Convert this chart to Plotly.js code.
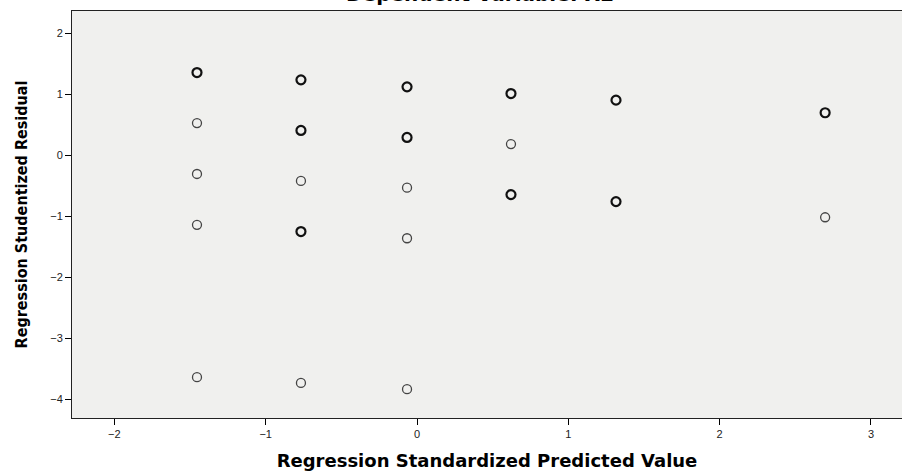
<!DOCTYPE html>
<html><head><meta charset="utf-8">
<script src="https://cdn.plot.ly/plotly-3.0.1.min.js"></script>
<style>html,body{margin:0;padding:0;background:#fff}#chart{width:902px;height:471px}</style>
</head><body><div id="chart"></div>
<script>
// Predicted values (x) and studentized residuals (y)
const singleX = [-1.454, -1.454, -1.454, -1.454, -0.767, -0.767, -0.066, -0.066, -0.066, 0.621, 2.697];
const singleY = [0.527, -0.308, -1.142, -3.64, -0.422, -3.735, -0.532, -1.362, -3.838, 0.183, -1.018];
const multiX = [-1.454, -0.767, -0.767, -0.767, -0.066, -0.066, 0.621, 0.621, 1.315, 1.315, 2.697];
const multiY = [1.355, 1.236, 0.406, -1.252, 1.121, 0.291, 1.011, -0.646, 0.903, -0.761, 0.696];
const xTicks = [-2, -1, 0, 1, 2, 3];
const yTicks = [-4, -3, -2, -1, 0, 1, 2];
const chartTitle = 'Dependent Variable: X2';

const traces = [
  {x: singleX, y: singleY, type: 'scatter', mode: 'markers', name: 'single',
   marker: {symbol: 'circle-open', size: 9, color: '#444', line: {width: 1.3, color: '#444'}}},
  {x: multiX, y: multiY, type: 'scatter', mode: 'markers', name: 'overlapping',
   marker: {symbol: 'circle-open', size: 9, color: '#111', line: {width: 2.2, color: '#111'}}}
];
const layout = {
  width: 902, height: 471,
  margin: {l: 72, r: 0, t: 11, b: 53},
  paper_bgcolor: '#ffffff', plot_bgcolor: '#f0f0ee',
  showlegend: false,
  annotations: [{text: '<b>' + chartTitle + '</b>', xref: 'paper', yref: 'paper', x: 0.4916, y: 1,
                 xanchor: 'center', yanchor: 'bottom', yshift: 3, showarrow: false,
                 font: {family: 'DejaVu Sans, sans-serif', size: 20, color: '#000'}}],
  xaxis: {range: [-2.28, 3.205], tickvals: xTicks, ticks: 'outside', ticklen: 6, tickcolor: '#000', tickwidth: 1,
          showgrid: false, zeroline: false, showline: true, linecolor: '#222', linewidth: 1, mirror: true,
          tickfont: {family: 'Liberation Sans, Arial, sans-serif', size: 11, color: '#222'},
          title: {text: '<b>Regression Standardized Predicted Value</b>', standoff: 15,
                  font: {family: 'DejaVu Sans, sans-serif', size: 18, color: '#000'}}},
  yaxis: {range: [-4.31, 2.365], tickvals: yTicks, ticks: 'outside', ticklen: 6, tickcolor: '#000', tickwidth: 1,
          showgrid: false, zeroline: false, showline: true, linecolor: '#222', linewidth: 1, mirror: true,
          tickfont: {family: 'Liberation Sans, Arial, sans-serif', size: 11, color: '#222'},
          title: {text: '<b>Regression Studentized Residual</b>', standoff: 18,
                  font: {family: 'DejaVu Sans Condensed, DejaVu Sans, sans-serif', size: 16, color: '#000'}}}
};
Plotly.newPlot('chart', traces, layout, {displayModeBar: false, staticPlot: true});
</script></body></html>
